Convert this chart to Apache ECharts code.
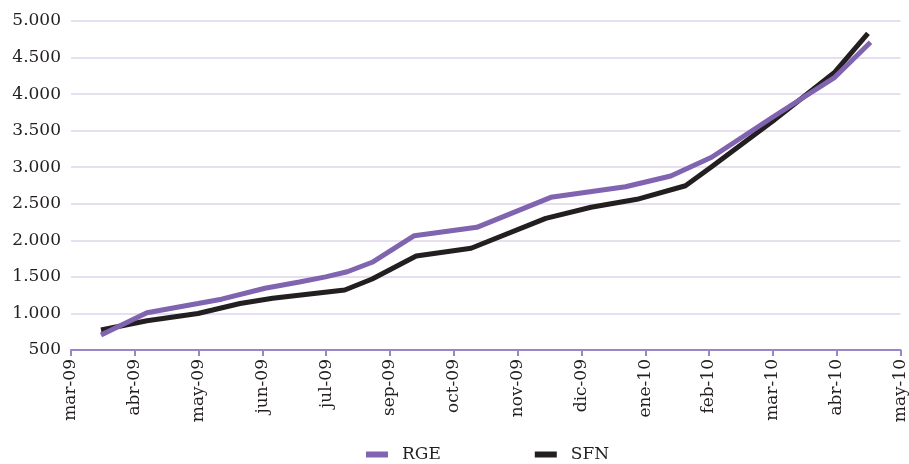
<!DOCTYPE html>
<html><head><meta charset="utf-8">
<script src="https://cdn.jsdelivr.net/npm/echarts@6/dist/echarts.min.js"></script>
<style>html,body{margin:0;padding:0;background:#fff}#c{width:909px;height:464px}</style>
</head><body><div id="c"></div>
<script>
// x positions are in month-label units (0 = mar-09, 13 = may-10)
const monthLabels = ['mar-09','abr-09','may-09','jun-09','jul-09','sep-09','oct-09','nov-09','dic-09','ene-10','feb-10','mar-10','abr-10','may-10'];
const rgeX = [0.47, 1.19, 1.99, 2.36, 3.04, 3.58, 3.99, 4.33, 4.72, 5.38, 6.36, 7.52, 8.69, 9.40, 10.04, 11.0, 11.97, 12.53];
const rgeY = [705, 1010, 1135, 1195, 1345, 1430, 1500, 1570, 1700, 2063, 2178, 2588, 2733, 2880, 3136, 3687, 4230, 4709];
const sfnX = [0.47, 1.19, 1.99, 2.22, 2.65, 3.16, 4.29, 4.72, 5.41, 6.27, 7.44, 8.15, 8.87, 9.63, 10.04, 11.0, 11.97, 12.49];
const sfnY = [774, 900, 1000, 1047, 1136, 1207, 1320, 1471, 1786, 1891, 2301, 2452, 2561, 2747, 3007, 3632, 4300, 4832];
const yTicks = {min: 500, max: 5000, step: 500};

const pair = (xs, ys) => xs.map((x, i) => [x, ys[i]]);
const fmt = v => String(v).replace(/\B(?=(\d{3})+(?!\d))/g, '.');
const font = 'DejaVu Serif';
const chart = echarts.init(document.getElementById('c'));
chart.setOption({
  animation: false,
  grid: {left: 71, right: 6, top: 21, bottom: 114, containLabel: false},
  legend: {
    top: 446, left: 361, itemGap: 94, itemWidth: 22, itemHeight: 6, padding: [0, 5],
    icon: 'rect',
    textStyle: {fontFamily: font, fontSize: 17, color: '#231f20', padding: [0, 0, 0, 9]},
    data: ['RGE', 'SFN']
  },
  xAxis: {
    type: 'value', min: 0, max: monthLabels.length - 1, interval: 1,
    axisLine: {show: true, lineStyle: {color: '#9a86c6', width: 2}},
    axisTick: {show: true, length: 6, lineStyle: {color: '#9a86c6', width: 2}},
    splitLine: {show: false},
    axisLabel: {rotate: 90, fontFamily: font, fontSize: 17, color: '#231f20', margin: 9,
      formatter: v => monthLabels[Math.round(v)] || ''}
  },
  yAxis: {
    type: 'value', min: yTicks.min, max: yTicks.max, interval: yTicks.step,
    axisLine: {show: false}, axisTick: {show: false},
    splitLine: {lineStyle: {color: '#dcd4ea', width: 1.5}},
    axisLabel: {fontFamily: font, fontSize: 17, color: '#231f20', margin: 10, formatter: fmt}
  },
  series: [
    {name: 'SFN', type: 'line', data: pair(sfnX, sfnY), showSymbol: false, symbol: 'none',
     lineStyle: {color: '#231f20', width: 5}, itemStyle: {color: '#231f20'}, z: 2},
    {name: 'RGE', type: 'line', data: pair(rgeX, rgeY), showSymbol: false, symbol: 'none',
     lineStyle: {color: '#8064b0', width: 5}, itemStyle: {color: '#8064b0'}, z: 3}
  ]
});
</script></body></html>
